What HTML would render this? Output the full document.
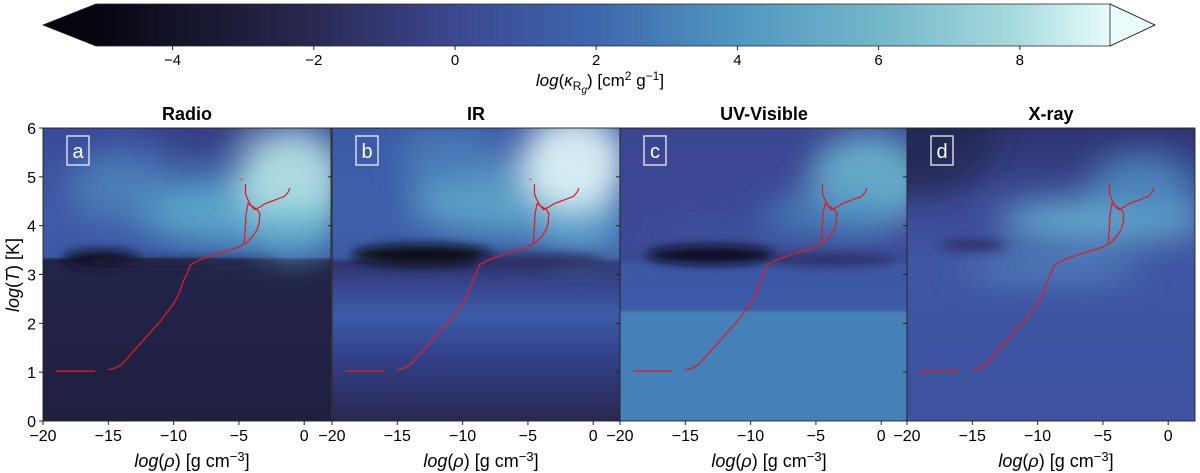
<!DOCTYPE html>
<html><head><meta charset="utf-8"><style>
body{margin:0;background:#fff;width:1200px;height:473px;overflow:hidden;font-family:"Liberation Sans","DejaVu Sans",sans-serif}
svg{display:block}
</style></head><body>
<svg id="fig" width="1200" height="473" viewBox="0 0 1200 473" xmlns="http://www.w3.org/2000/svg">
<defs>
<linearGradient id="cbg" x1="96" x2="1110" y1="0" y2="0" gradientUnits="userSpaceOnUse">
<stop offset="0" stop-color="#05060f"/><stop offset="0.07" stop-color="#121226"/>
<stop offset="0.21" stop-color="#282850"/><stop offset="0.35" stop-color="#3c4790"/>
<stop offset="0.49" stop-color="#3d66ac"/><stop offset="0.63" stop-color="#5096c0"/>
<stop offset="0.77" stop-color="#72b6c9"/><stop offset="0.91" stop-color="#a8dcde"/>
<stop offset="1" stop-color="#e9fbfb"/></linearGradient>
<filter id="blur" filterUnits="userSpaceOnUse" x="0" y="0" width="1200" height="473"><feGaussianBlur stdDeviation="16"/></filter>
<filter id="blur2" filterUnits="userSpaceOnUse" x="0" y="0" width="1200" height="473"><feGaussianBlur stdDeviation="5"/></filter>
</defs>
<g>
<polygon points="96,4 43,25 96,46" fill="#04050e"/>
<rect x="96" y="4" width="1014" height="42" fill="url(#cbg)"/>
<polygon points="1110,4 1155,25 1110,46" fill="#eafdfd" stroke="#222" stroke-width="0.8"/>
<polygon points="96,4 43,25 96,46 1110,46 1155,25 1110,4" fill="none" stroke="#222" stroke-width="0.8"/>
<g id="cbticks"></g>
<text x="600" y="86" text-anchor="middle" font-size="17"><tspan font-style="italic">log</tspan>(<tspan font-style="italic">κ</tspan><tspan font-size="12" dy="4">R</tspan><tspan font-size="10" dy="3" font-style="italic">g</tspan><tspan dy="-7">) [cm</tspan><tspan font-size="12" dy="-6">2</tspan><tspan dy="6"> g</tspan><tspan font-size="12" dy="-6">−1</tspan><tspan dy="6">]</tspan></text>
</g>
<g id="panels"></g>
<text transform="translate(19,275) rotate(-90)" text-anchor="middle" font-size="18"><tspan font-style="italic">log</tspan>(<tspan font-style="italic">T</tspan>) [K]</text>
</svg>
<script>
const NS="http://www.w3.org/2000/svg";
const cbTicks=[-4,-2,0,2,4,6,8];
const panelNames=["Radio","IR","UV-Visible","X-ray"];
const panelLetters=["a","b","c","d"];
const xTicks=[-20,-15,-10,-5,0];
const yTicks=[0,1,2,3,4,5,6];
const trackTailRho=[-19,-16];
const trackTailT=[1.02,1.02];
const trackMainRho=[-15,-14.5,-14,-13.5,-13,-12,-11,-10,-9.6,-9.4,-9.2,-9,-8.7,-8,-7,-6,-5,-4.5,-4,-3.6,-3.45,-3.4,-3.6,-3.9,-4.1];
const trackMainT=[1.05,1.08,1.15,1.3,1.45,1.75,2.05,2.4,2.6,2.75,2.9,3.0,3.2,3.3,3.4,3.48,3.56,3.64,3.76,3.92,4.05,4.25,4.33,4.38,4.42];
const trackArmRho=[-4.1,-3.8,-3.4,-3,-2.5,-2,-1.5,-1.2,-1.1];
const trackArmT=[4.42,4.33,4.38,4.45,4.5,4.55,4.6,4.7,4.77];
const trackBranchRho=[-4.6,-4.55,-4.5,-4.45,-4.3,-4.1,-4.35,-4.5,-4.5];
const trackBranchT=[3.63,3.8,4.0,4.25,4.45,4.42,4.55,4.65,4.85];
const dotRho=[-4.8],dotT=[4.95];

const cbx=v=>455+70.6*v;
const cbg=document.getElementById('cbticks');
cbTicks.forEach(v=>{
  const l=document.createElementNS(NS,'line');
  l.setAttribute('x1',cbx(v));l.setAttribute('x2',cbx(v));l.setAttribute('y1',46);l.setAttribute('y2',50);l.setAttribute('stroke','#222');
  
  
  cbg.appendChild(l);
  const t=document.createElementNS(NS,'text');
  t.setAttribute('x',cbx(v));t.setAttribute('y',65);t.setAttribute('text-anchor','middle');t.setAttribute('font-size','15');
  t.textContent=v<0?'−'+(-v):String(v);
  
  
  cbg.appendChild(t);
});

const pLeft=[43,332,620,907],pW=288,pTop=128,pBot=421;
const XMIN=-20,XMAX=2.05,YMIN=0,YMAX=6;
const styles=[
 {grad:[[0,'#3a4a98'],[0.3,'#3f5aa5'],[0.44,'#3b5aa6'],[0.45,'#23244a'],[1,'#1f1f40']],
  blobs:[[-8,6.2,4,0.6,'#343a80',0.9],[-5,4.3,8,0.7,'#5aa6c9',0.95],[-1,5.0,4,1.0,'#b8e6e6',0.9],[-14,4.8,4,0.7,'#4f88be',0.8],[-1,3.9,3.5,0.5,'#62b2cc',0.9]],
  dark:[[-15.5,3.32,3,0.18,'#0b0b1c',1],[-10,3.25,8,0.08,'#1e1e3c',0.9]]},
 {grad:[[0,'#3a5aa6'],[0.3,'#3f60aa'],[0.44,'#3c5ba6'],[0.46,'#2e3470'],[0.58,'#3a4f9a'],[0.64,'#3d5ba8'],[0.78,'#33418a'],[1,'#28284f']],
  blobs:[[-6,4.5,8,0.7,'#5ca6c9',0.9],[-1.5,5.3,4,1.0,'#e4f8f8',0.9],[-11,5.4,4,0.6,'#4f86be',0.7],[-1,3.9,3.5,0.5,'#5fa8cc',0.8]],
  dark:[[-13,3.4,5.5,0.22,'#080816',1],[-4,3.3,5,0.15,'#2c2d63',0.9]]},
 {grad:[[0,'#3b4591'],[0.4,'#3d4a96'],[0.45,'#3b4a92'],[0.47,'#3c58a5'],[0.62,'#3d5ba8'],[0.63,'#4580b8'],[1,'#4580b8']],
  blobs:[[-1,4.9,4.5,1.0,'#6ab6cc',0.9],[-4,4.2,5,0.5,'#4a88c0',0.8],[-10,3.8,8,0.3,'#3e58a2',0.6]],
  dark:[[-13,3.4,5,0.2,'#111128',1],[-4,3.3,5,0.15,'#2e3168',0.9]]},
 {grad:[[0,'#2e3370'],[0.25,'#3c4a96'],[0.45,'#3f55a2'],[1,'#3e52a0']],
  blobs:[[-19,6,6,1.4,'#23264f',0.8],[-5,4.1,8,0.45,'#64aece',0.95],[-2,4.8,4,0.7,'#4f90c2',0.8],[-9,3.1,7,0.2,'#5795c8',0.9]],
  dark:[[-15,3.6,2.5,0.12,'#2b2d60',0.9]]}
];
const panelsG=document.getElementById('panels');
function el(tag,attrs,parent){const e=document.createElementNS(NS,tag);for(const k in attrs)e.setAttribute(k,attrs[k]);parent.appendChild(e);return e;}
panelNames.forEach((name,i)=>{
  const L=pLeft[i];
  const sx=x=>L+(x-XMIN)/(XMAX-XMIN)*pW;
  const sy=y=>pBot-(y-YMIN)/(YMAX-YMIN)*(pBot-pTop);
  const g=el('g',{},panelsG);
  
  
  const defs=el('defs',{},g);
  const cp=el('clipPath',{id:'cp'+i},defs);
  el('rect',{x:L,y:pTop,width:pW,height:pBot-pTop},cp);
  const lg=el('linearGradient',{id:'bg'+i,x1:0,x2:0,y1:0,y2:1},defs);
  styles[i].grad.forEach(s=>el('stop',{offset:s[0],'stop-color':s[1]},lg));
  const hm=el('g',{'clip-path':'url(#cp'+i+')'},g);
  
  
  el('rect',{x:L,y:pTop,width:pW,height:pBot-pTop,fill:'url(#bg'+i+')'},hm);
  const bl=el('g',{filter:'url(#blur)'},hm);
  styles[i].blobs.forEach(b=>el('ellipse',{cx:sx(b[0]),cy:sy(b[1]),rx:b[2]*13.05,ry:b[3]*48.8,fill:b[4],opacity:b[5]},bl));
  const dk=el('g',{filter:'url(#blur2)'},hm);
  styles[i].dark.forEach(b=>el('ellipse',{cx:sx(b[0]),cy:sy(b[1]),rx:b[2]*13.05,ry:b[3]*48.8,fill:b[4],opacity:b[5]},dk));
  const tr=el('g',{fill:'none',stroke:'#dc1e2a','stroke-width':1.3},g);
  
  
  [[trackTailRho,trackTailT],[trackMainRho,trackMainT],[trackArmRho,trackArmT],[trackBranchRho,trackBranchT]].forEach(([xs,ys])=>{
    const p=el('polyline',{points:xs.map((x,k)=>sx(x)+','+sy(ys[k])).join(' ')},tr);
    
    
  });
  dotRho.forEach((x,k)=>el('circle',{cx:sx(x),cy:sy(dotT[k]),r:0.8,fill:'#dc1e2a',stroke:'none'},tr));
  el('rect',{x:L,y:pTop,width:pW,height:pBot-pTop,fill:'none',stroke:'#222','stroke-width':0.9},g);
  const lb=el('g',{},g);
  
  
  el('rect',{x:L+24,y:136,width:22,height:29,fill:'none',stroke:'#eee','stroke-width':1.3},lb);
  const lt=el('text',{x:L+35,y:158,'text-anchor':'middle','font-size':20,fill:'#fff'},lb);lt.textContent=panelLetters[i];
  const tt=el('text',{x:L+pW/2,y:120,'text-anchor':'middle','font-size':18,'font-weight':'bold'},g);
  tt.textContent=name;
  
  
  xTicks.forEach(v=>{
    el('line',{x1:sx(v),x2:sx(v),y1:pBot,y2:pBot+4,stroke:'#222'},g);
    const t=el('text',{x:sx(v),y:pBot+20,'text-anchor':'middle','font-size':16},g);
    t.textContent=v<0?'−'+(-v):String(v);
    
    
  });
  yTicks.forEach(v=>{
    el('line',{x1:L-4,x2:L,y1:sy(v),y2:sy(v),stroke:'#222'},g);
    if(i===0){const t=el('text',{x:L-7,y:sy(v)+6,'text-anchor':'end','font-size':16},g);t.textContent=String(v);
    
    }
  });
  const xt=el('text',{x:L+pW/2+5,y:467,'text-anchor':'middle','font-size':18},g);
  xt.innerHTML='<tspan font-style="italic">log</tspan>(<tspan font-style="italic">ρ</tspan>) [g cm<tspan font-size="13" dy="-6">−3</tspan><tspan dy="6">]</tspan>';
  
  
});
</script>
</body></html>
